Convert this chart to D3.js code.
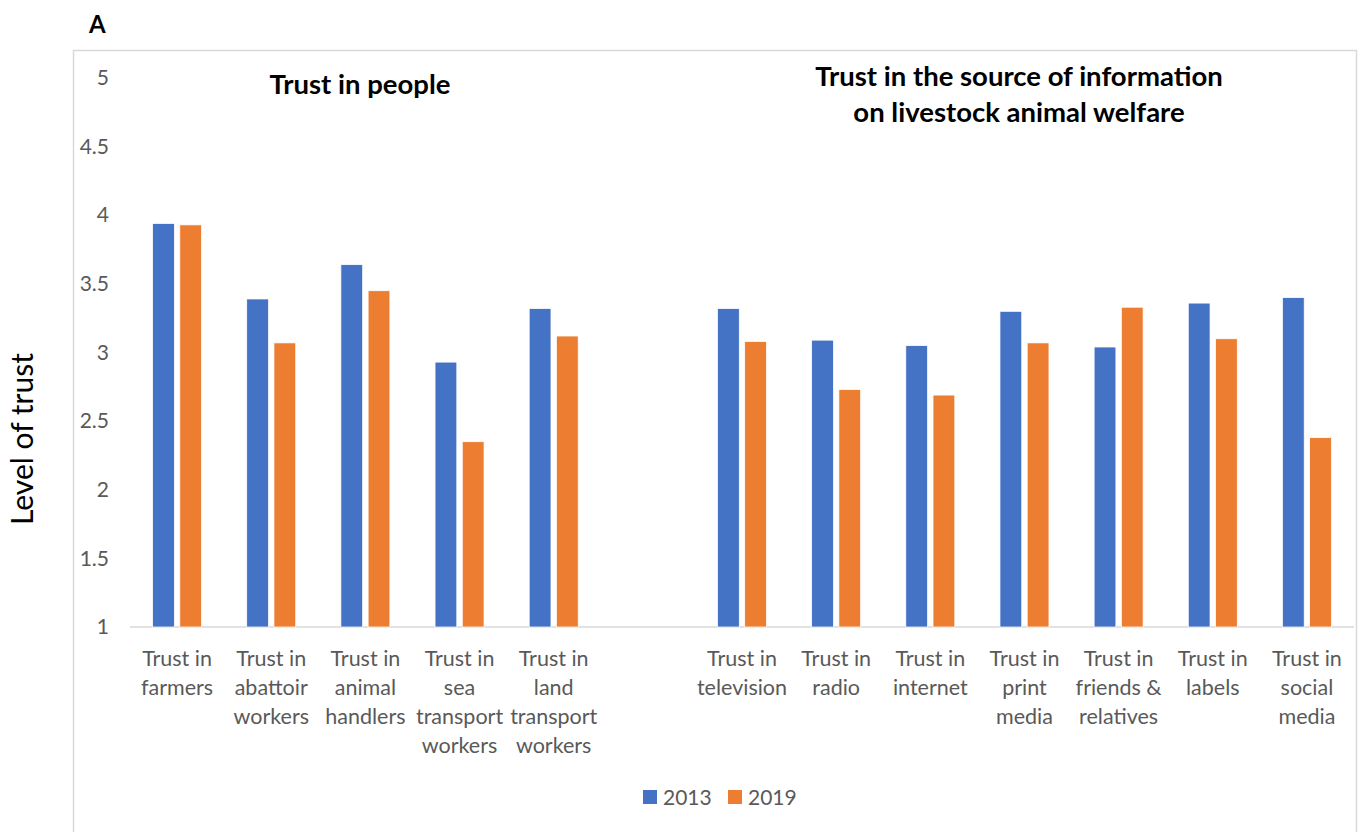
<!DOCTYPE html>
<html>
<head>
<meta charset="utf-8">
<script src="https://cdn.jsdelivr.net/npm/d3@7/dist/d3.min.js"></script>
<style>
  html, body { margin: 0; padding: 0; background: #fff; }
  svg { display: block; }
</style>
</head>
<body>
<svg id="chart" width="1362" height="832"></svg>
<script>
// Category labels (line breaks follow the printed wrapping)
const peopleCategories = [
  "Trust in\nfarmers",
  "Trust in\nabattoir\nworkers",
  "Trust in\nanimal\nhandlers",
  "Trust in\nsea\ntransport\nworkers",
  "Trust in\nland\ntransport\nworkers"
];
const sourceCategories = [
  "Trust in\ntelevision",
  "Trust in\nradio",
  "Trust in\ninternet",
  "Trust in\nprint\nmedia",
  "Trust in\nfriends &\nrelatives",
  "Trust in\nlabels",
  "Trust in\nsocial\nmedia"
];
const seriesNames = ["2013", "2019"];
const values2013 = [3.94, 3.39, 3.64, 2.93, 3.32, 3.32, 3.09, 3.05, 3.30, 3.04, 3.36, 3.40];
const values2019 = [3.93, 3.07, 3.45, 2.35, 3.12, 3.08, 2.73, 2.69, 3.07, 3.33, 3.10, 2.38];
const yTicks = [1, 1.5, 2, 2.5, 3, 3.5, 4, 4.5, 5];
const colors = ["#4472C4", "#ED7D31"];

const GAP = "__gap__";
const categories = peopleCategories.concat(sourceCategories);
const domain = peopleCategories.concat([GAP], sourceCategories);

const svg = d3.select("#chart");
const font = "Lato, 'Open Sans', 'Liberation Sans', sans-serif";
const textGray = "#595959";

// chart frame
svg.append("path")
  .attr("d", "M73.5,832 V50.5 H1356.5 V832")
  .attr("fill", "none")
  .attr("stroke", "#d9d9d9")
  .attr("stroke-width", 1.5);

svg.append("text")
  .attr("x", 89).attr("y", 33)
  .attr("font-family", font).attr("font-weight", "bold")
  .attr("font-size", 24).attr("fill", "#000")
  .text("A");

const x0 = d3.scaleBand().domain(domain).range([130, 1354]).paddingInner(0).paddingOuter(0);
const x1 = d3.scaleBand().domain(seriesNames).range([x0.bandwidth() / 2 - 24.5, x0.bandwidth() / 2 + 24.5]).paddingInner(0.2);
const y = d3.scaleLinear().domain([1, 5]).range([627, 78]);

// y tick labels (no gridlines)
const yAxis = svg.append("g")
  .attr("transform", "translate(109,0)")
  .call(d3.axisLeft(y).tickValues(yTicks).tickSize(0).tickPadding(0).tickFormat(d3.format("")));
yAxis.select(".domain").remove();
yAxis.selectAll("text")
  .attr("font-family", font).attr("font-size", 21).attr("fill", textGray);

// baseline
svg.append("line")
  .attr("x1", 130).attr("x2", 1354)
  .attr("y1", y(1)).attr("y2", y(1))
  .attr("stroke", "#d9d9d9").attr("stroke-width", 1.5);

// bars
const rows = categories.map((c, i) => ({ cat: c, vals: [values2013[i], values2019[i]] }));
const groups = svg.append("g").selectAll("g")
  .data(rows).join("g")
  .attr("transform", d => `translate(${x0(d.cat)},0)`);
groups.selectAll("rect")
  .data(d => d.vals.map((v, j) => ({ key: seriesNames[j], v, j })))
  .join("rect")
  .attr("x", d => x1(d.key))
  .attr("width", x1.bandwidth())
  .attr("y", d => y(d.v))
  .attr("height", d => y(1) - y(d.v))
  .attr("fill", d => colors[d.j])
  .attr("stroke", "#fff").attr("stroke-width", 0.75);

// x category labels
const xAxis = svg.append("g")
  .attr("transform", `translate(0,${y(1)})`)
  .call(d3.axisBottom(x0).tickSize(0).tickFormat(""));
xAxis.select(".domain").remove();
xAxis.selectAll(".tick").each(function(d) {
  if (d === GAP) return;
  const t = d3.select(this).append("text")
    .attr("text-anchor", "middle")
    .attr("font-family", font).attr("font-size", 21.5).attr("fill", textGray);
  d.split("\n").forEach((line, i) => {
    t.append("tspan").attr("x", 0).attr("y", 39 + i * 29).text(line);
  });
});

// group titles
svg.append("text")
  .attr("x", 360).attr("y", 94)
  .attr("text-anchor", "middle")
  .attr("font-family", font).attr("font-weight", "bold")
  .attr("font-size", 27.5).attr("fill", "#000")
  .text("Trust in people");
const t2 = svg.append("text")
  .attr("text-anchor", "middle")
  .attr("font-family", font).attr("font-weight", "bold")
  .attr("font-size", 27.5).attr("fill", "#000");
["Trust in the source of information", "on livestock animal welfare"].forEach((s, i) => {
  t2.append("tspan").attr("x", 1019).attr("y", 86 + i * 36).text(s);
});

// y axis title
svg.append("text")
  .attr("transform", "translate(33,439) rotate(-90)")
  .attr("text-anchor", "middle")
  .attr("font-family", font).attr("font-size", 30).attr("fill", "#000")
  .text("Level of trust");

// legend
const legend = svg.append("g").attr("transform", "translate(643,790)");
const legendItems = legend.selectAll("g").data(seriesNames).join("g")
  .attr("transform", (d, i) => `translate(${i * 85},0)`);
legendItems.append("rect")
  .attr("width", 14).attr("height", 14)
  .attr("fill", (d, i) => colors[i]);
legendItems.append("text")
  .attr("x", 20).attr("y", 14.5)
  .attr("font-family", font).attr("font-size", 21).attr("fill", textGray)
  .text(d => d);
</script>
</body>
</html>
